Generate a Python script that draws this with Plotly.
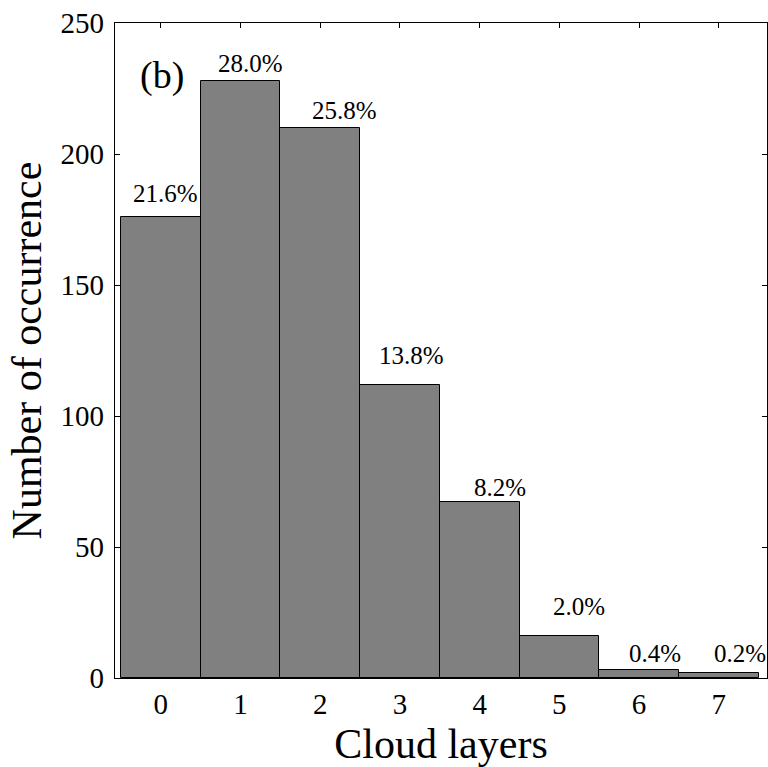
import plotly.graph_objects as go

# Histogram of cloud-layer counts
layers = [0, 1, 2, 3, 4, 5, 6, 7]
counts = [176, 228, 210, 112, 67, 16, 3, 2]
pct_labels = ["21.6%", "28.0%", "25.8%", "13.8%", "8.2%", "2.0%", "0.4%", "0.2%"]
tick_vals = [0, 50, 100, 150, 200, 250]

# label placement: horizontal shift (in bar widths) and baseline height (in counts)
label_dx = [0.06, 0.12, 0.30, 0.15, 0.25, 0.25, 0.20, 0.26]
label_y = [181.7, 231.3, 213.5, 120.0, 69.4, 24.0, 6.2, 6.2]

FONT = "Liberation Serif"

fig = go.Figure()
fig.add_trace(go.Bar(
    x=layers, y=counts, width=1.0,
    marker=dict(color="#808080", line=dict(color="#000000", width=1)),
    hoverinfo="skip",
))

for xi, dx, yb, txt in zip(layers, label_dx, label_y, pct_labels):
    fig.add_annotation(
        x=xi + dx, y=yb, text=txt, showarrow=False,
        xanchor="center", yanchor="bottom", yshift=-7,
        font=dict(family=FONT, size=25, color="black"),
    )

fig.add_annotation(
    x=0.072, y=0.92, xref="paper", yref="paper", text="(b)", showarrow=False,
    xanchor="center", yanchor="middle",
    font=dict(family=FONT, size=38, color="black"),
)

axis_common = dict(
    showline=True, linecolor="black", linewidth=1.3, mirror="ticks",
    ticks="inside", ticklen=5, tickwidth=1, tickcolor="black",
    showgrid=False, zeroline=False,
    tickfont=dict(family=FONT, size=29, color="black"),
)

fig.update_xaxes(
    range=[-0.575, 7.605], tickvals=layers, ticklabelstandoff=0,
    title=dict(text="Cloud layers", font=dict(family=FONT, size=42, color="black"), standoff=15),
    layer="below traces", **axis_common,
)
fig.update_yaxes(
    range=[0, 250], tickvals=tick_vals, ticklabelstandoff=4,
    title=dict(text="Number of occurrence", font=dict(family=FONT, size=42, color="black"), standoff=5),
    **axis_common,
)

fig.update_layout(
    width=768, height=767,
    margin=dict(l=115, r=1, t=23, b=89),
    plot_bgcolor="white", paper_bgcolor="white",
    showlegend=False, bargap=0,
)

fig.write_html("out.html")
